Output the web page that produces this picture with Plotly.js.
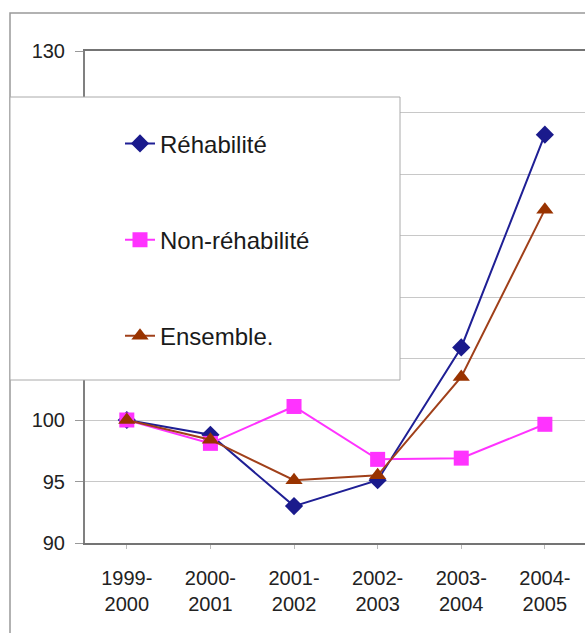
<!DOCTYPE html>
<html>
<head>
<meta charset="utf-8">
<script src="https://cdn.plot.ly/plotly-3.0.1.min.js"></script>
<style>html,body{margin:0;padding:0;background:#fff;}#chart{width:585px;height:633px;}</style>
</head>
<body>
<div id="chart"></div>
<script>
var categories = ['1999-2000', '2000-2001', '2001-2002', '2002-2003', '2003-2004', '2004-2005'];
var tickLabels = ['1999-<br>2000', '2000-<br>2001', '2001-<br>2002', '2002-<br>2003', '2003-<br>2004', '2004-<br>2005'];
var rehabilite = [100, 98.8, 93.0, 95.1, 105.9, 123.2];
var nonRehabilite = [100, 98.1, 101.1, 96.8, 96.9, 99.65];
var ensemble = [100, 98.4, 95.1, 95.5, 103.5, 117.1];
var yTicks = [90, 95, 100, 105, 110, 115, 120, 125, 130];

var idx = categories.map(function (c, i) { return i; });
var font = 'Liberation Sans, Arial, sans-serif';

var traces = [
  {x: idx, y: rehabilite, name: 'Réhabilité', type: 'scatter', mode: 'lines+markers',
   line: {color: '#1f1f95', width: 2}, marker: {symbol: 'diamond', size: 14, color: '#1a1a8c'}, legendgroup: 'a'},
  {x: idx, y: nonRehabilite, name: 'Non-réhabilité', type: 'scatter', mode: 'lines+markers',
   line: {color: '#ff33ff', width: 2}, marker: {symbol: 'square', size: 15, color: '#ff33ff'}, legendgroup: 'b'},
  {x: idx, y: ensemble, name: 'Ensemble.', type: 'scatter', mode: 'lines+markers',
   line: {color: '#a0401a', width: 2}, marker: {symbol: 'triangle-up', size: 15, color: '#993300'}, legendgroup: 'c'}
];

var layout = {
  width: 585, height: 633,
  margin: {l: 85, r: 0, t: 51, b: 90},
  paper_bgcolor: '#ffffff', plot_bgcolor: '#ffffff',
  font: {family: font, color: '#222222', size: 20},
  showlegend: true,
  legend: {x: 0.07, y: 0.857, xanchor: 'left', yanchor: 'top', bgcolor: 'rgba(0,0,0,0)', borderwidth: 0,
           font: {family: font, size: 24, color: '#1a1a1a'}, tracegroupgap: 62},
  xaxis: {
    range: [-0.5, 5.48], tickvals: idx, ticktext: tickLabels,
    showgrid: false, zeroline: false, showline: true, linecolor: '#747474', linewidth: 2, mirror: true,
    ticks: 'outside', tickson: 'boundaries', ticklen: 4, tickcolor: '#bbbbbb',
    ticklabelstandoff: 12, tickfont: {family: font, size: 20, color: '#222222'}, fixedrange: true
  },
  yaxis: {
    range: [90, 130], tickvals: yTicks, showgrid: true, gridcolor: '#c8c8c8', gridwidth: 1,
    zeroline: false, showline: true, linecolor: '#808080', linewidth: 2, mirror: true,
    ticks: 'outside', ticklen: 8, tickcolor: '#999999', ticklabelstandoff: 6,
    tickfont: {family: font, size: 20, color: '#222222'}, fixedrange: true
  },
  shapes: [
    {type: 'rect', xref: 'paper', yref: 'paper', x0: -0.15, x1: 1.1, y0: -0.3, y1: 1.0772,
     line: {color: '#999999', width: 1.5}, fillcolor: 'rgba(0,0,0,0)', layer: 'below'},
    {type: 'rect', xref: 'paper', yref: 'paper', x0: -0.15, x1: 0.63, y0: 0.3313, y1: 0.9065,
     line: {color: '#aaaaaa', width: 1}, fillcolor: '#ffffff', layer: 'above'}
  ]
};

Plotly.newPlot('chart', traces, layout, {displayModeBar: false, staticPlot: true});
</script>
</body>
</html>
